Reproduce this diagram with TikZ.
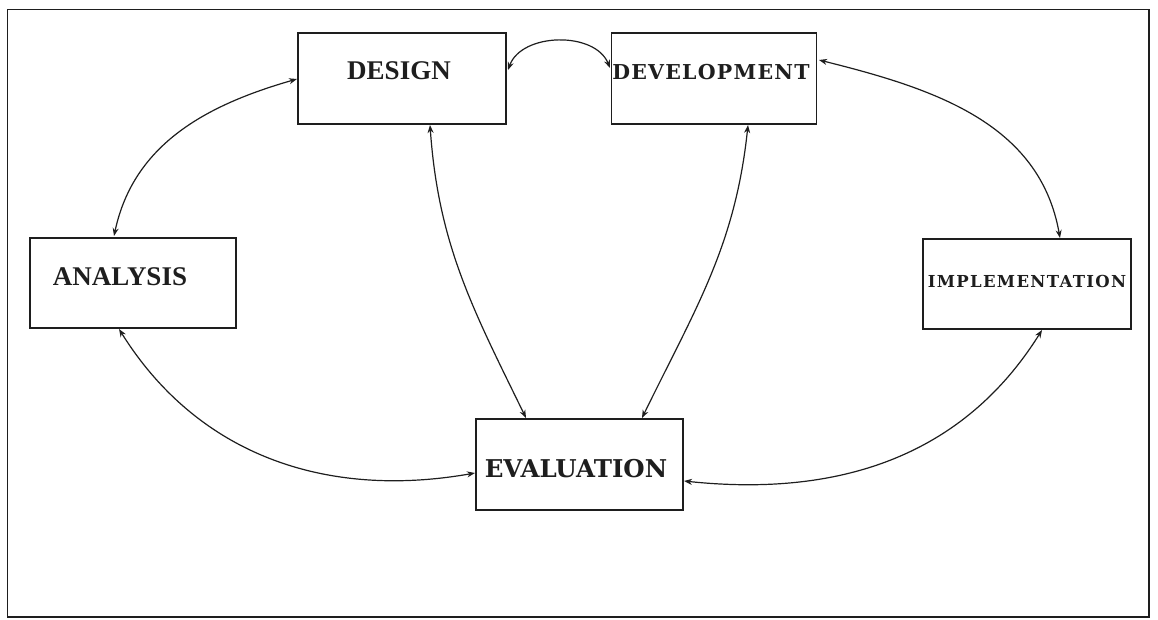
\documentclass[tikz,border=0pt]{standalone}
\usepackage{fontspec}
\setmainfont{Liberation Serif}
\newfontfamily\slabfont{DejaVu Serif}
\usetikzlibrary{arrows.meta}
\definecolor{ink}{HTML}{1E1E1E}
\begin{document}
\begin{tikzpicture}[x=1pt,y=1pt,
  stagebox/.style={draw=ink, line width=1.4pt, rectangle, inner sep=0pt},
  romanlbl/.style={anchor=base, inner sep=0pt, text=ink, font=\fontsize{27}{27}\selectfont\bfseries},
  slablbl/.style={anchor=base, inner sep=0pt, text=ink},
  link/.style={draw=ink, line width=1.2pt, {Stealth[length=8pt,width=6pt]}-{Stealth[length=8pt,width=6pt]}}]
  \useasboundingbox (0,0) rectangle (1158,-620);
  % outer frame
  \draw[ink, line width=1.8pt] (7.5,-9.5) rectangle (1149,-617);
  % stage boxes
  \node[stagebox, minimum width=208pt, minimum height=91pt] (design) at (402,-78.5) {};
  \node[stagebox, minimum width=205.5pt, minimum height=91pt] (devel) at (714,-78.5) {};
  \node[stagebox, minimum width=206pt, minimum height=90pt] (analysis) at (133,-283) {};
  \node[stagebox, minimum width=208pt, minimum height=90pt] (impl) at (1027,-284) {};
  \node[stagebox, minimum width=207pt, minimum height=91pt] (eval) at (579.5,-464.5) {};
  % stage names
  \node[romanlbl] (designtxt) at (399,-80) {DESIGN};
  \node[romanlbl] (analysistxt) at (120,-285) {ANALYSIS};
  \node[slablbl, font=\slabfont\fontsize{20.5}{20.5}\selectfont\bfseries\addfontfeature{LetterSpace=6}] (develtxt) at (711,-80) {DEVELOPMENT};
  \node[slablbl, font=\slabfont\fontsize{16.5}{16.5}\selectfont\bfseries\addfontfeature{LetterSpace=8}] (impltxt) at (1027,-287) {IMPLEMENTATION};
  \node[slablbl, font=\slabfont\fontsize{24.5}{24.5}\selectfont\bfseries] (evaltxt) at (576,-477) {EVALUATION};
  % anchor points on the box edges
  \coordinate (an-n) at (114,-236);
  \coordinate (an-s) at (119,-329);
  \coordinate (de-w) at (297,-79);
  \coordinate (de-e) at (508,-70);
  \coordinate (de-s) at (430,-125);
  \coordinate (dv-w) at (610,-68);
  \coordinate (dv-e) at (819,-60);
  \coordinate (dv-s) at (748,-125);
  \coordinate (im-n) at (1060,-238);
  \coordinate (im-s) at (1042,-330);
  \coordinate (ev-n1) at (526,-418);
  \coordinate (ev-n2) at (642,-418);
  \coordinate (ev-w) at (475,-473);
  \coordinate (ev-e) at (684,-481);
  % two-way links
  \draw[link] (an-n) to[out=78, in=196] (de-w);
  \draw[link] (de-e) to[out=70, in=112] (dv-w);
  \draw[link] (de-s) to[out=-86, in=116] (ev-n1);
  \draw[link] (dv-s) to[out=-96, in=64] (ev-n2);
  \draw[link] (an-s) to[out=-58, in=190] (ev-w);
  \draw[link] (ev-e) to[out=-6, in=-122] (im-s);
  \draw[link] (dv-e) to[out=-14, in=100] (im-n);
\end{tikzpicture}
\end{document}
